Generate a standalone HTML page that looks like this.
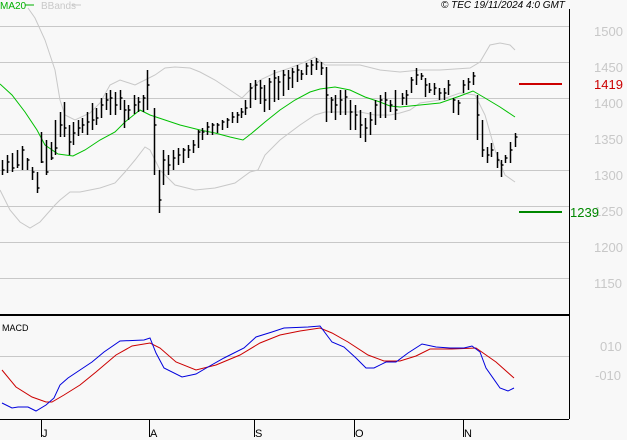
<!DOCTYPE html>
<html><head><meta charset="utf-8"><style>
body{margin:0;background:#f8f8f8;}
svg{display:block;font-family:"Liberation Sans",sans-serif;}
</style></head><body>
<svg width="627" height="440" viewBox="0 0 627 440" xmlns="http://www.w3.org/2000/svg">
<rect width="627" height="440" fill="#f8f8f8"/>
<g stroke="#c8c8c8" stroke-width="1">
<line x1="0" y1="26.5" x2="569" y2="26.5"/><line x1="0" y1="62.5" x2="569" y2="62.5"/>
<line x1="0" y1="98.5" x2="569" y2="98.5"/><line x1="0" y1="134.5" x2="569" y2="134.5"/>
<line x1="0" y1="170.5" x2="569" y2="170.5"/><line x1="0" y1="206.5" x2="569" y2="206.5"/>
<line x1="0" y1="242.5" x2="569" y2="242.5"/><line x1="0" y1="278.5" x2="569" y2="278.5"/>
<line x1="0" y1="356.5" x2="569" y2="356.5"/>
</g>
<g fill="#c8c8c8" font-size="13">
<text x="594" y="36">1500</text><text x="594" y="72">1450</text><text x="594" y="108">1400</text>
<text x="594" y="144">1350</text><text x="594" y="180">1300</text><text x="594" y="216">1250</text>
<text x="594" y="252">1200</text><text x="594" y="288">1150</text>
<text x="600" y="351">010</text><text x="595" y="380">-010</text>
</g>
<polyline fill="none" stroke="#c8c8c8" points="28,8 35,18 45,40 55,70 60,100 65,115 75,120 90,113 100,103 110,85 120,80 135,85 145,80 155,75 165,68 175,67 190,68 200,72 215,80 230,90 242,98 250,90 260,80 275,73 290,68 305,62 315,57 325,65 340,65 360,65 380,70 400,72 420,70 440,70 470,68 480,62 490,45 500,43 510,45 515,50"/>
<polyline fill="none" stroke="#c8c8c8" points="0,190 10,210 20,222 30,228 40,222 55,205 60,200 70,192 80,192 100,188 115,183 125,172 135,160 145,147 150,150 160,170 175,185 195,190 215,188 235,183 250,172 258,170 265,155 280,140 300,125 315,115 325,112 340,112 360,112 375,115 390,115 400,113 410,110 420,103 440,100 460,93 475,95 485,115 495,150 505,175 515,182"/>
<polyline fill="none" stroke="#00c000" points="0,84 12,95 25,112 37,130 45,145 58,154 73,156 85,150 100,140 115,132 125,122 140,110 150,115 165,120 180,125 200,130 215,133 230,137 243,140 252,133 265,122 280,110 295,100 310,92 320,89 335,87 350,90 365,97 380,102 390,106 400,107 420,105 440,103 460,96 473,91 485,98 500,107 515,117"/>
<path fill="none" stroke="#000" stroke-width="1.5" d="
M2.5 160V175M2.5 170h2M7.5 155V173M7.5 162h2M12.5 153V172M12.5 168h2M17.5 150V168M17.5 165h2M22.5 146V170M22.5 150h2M27.5 158V170M27.5 160h2M32.5 167V180M32.5 172h2M37.5 172V193M37.5 188h2M41.5 132V163M41.5 162h2M46.5 140V175M46.5 172h2M51.5 142V160M51.5 158h2M55.5 120V155M55.5 148h2M60.5 112V137M60.5 125h2M64.5 102V137M64.5 128h2M69.5 125V155M69.5 142h2M73.5 122V145M73.5 133h2M78.5 120V136M78.5 128h2M82.5 118V133M82.5 125h2M87.5 112V135M87.5 122h2M92.5 103V130M92.5 120h2M96.5 108V125M96.5 118h2M101.5 98V118M101.5 105h2M106.5 93V110M106.5 100h2M110.5 90V115M110.5 98h2M115.5 92V115M115.5 105h2M120.5 90V110M120.5 98h2M124.5 100V128M124.5 110h2M128.5 105V120M128.5 110h2M134.5 95V114M134.5 105h2M138.5 97V112M138.5 102h2M143.5 95V112M143.5 98h2M147.5 70V110M147.5 85h2M154.5 108V175M154.5 125h2M159.5 170V213M159.5 200h2M163.5 150V185M163.5 160h2M168.5 155V175M168.5 165h2M173.5 150V170M173.5 158h2M178.5 148V165M178.5 155h2M183.5 148V163M183.5 150h2M188.5 145V158M188.5 150h2M193.5 140V153M193.5 145h2M198.5 130V148M198.5 132h2M202.5 128V140M202.5 132h2M207.5 122V135M207.5 127h2M212.5 123V135M212.5 125h2M217.5 123V133M217.5 125h2M222.5 120V130M222.5 122h2M227.5 118V128M227.5 120h2M232.5 112V123M232.5 117h2M237.5 112V123M237.5 115h2M241.5 108V118M241.5 112h2M245.5 100V115M245.5 108h2M250.5 83V108M250.5 88h2M255.5 80V100M255.5 85h2M260.5 80V104M260.5 88h2M264.5 85V112M264.5 100h2M269.5 78V110M269.5 82h2M274.5 70V102M274.5 78h2M278.5 76V100M278.5 82h2M283.5 70V96M283.5 75h2M288.5 70V90M288.5 78h2M292.5 68V88M292.5 72h2M297.5 65V82M297.5 70h2M301.5 70V80M301.5 74h2M306.5 63V75M306.5 66h2M311.5 60V75M311.5 65h2M316.5 58V70M316.5 62h2M321.5 62V75M321.5 68h2M326.5 67V122M326.5 95h2M331.5 97V113M331.5 100h2M335.5 95V120M335.5 105h2M340.5 90V115M340.5 100h2M345.5 90V115M345.5 97h2M350.5 100V130M350.5 112h2M355.5 105V130M355.5 115h2M360.5 110V138M360.5 125h2M365.5 118V142M365.5 128h2M370.5 112V135M370.5 120h2M375.5 100V125M375.5 105h2M380.5 95V118M380.5 100h2M385.5 92V118M385.5 100h2M390.5 100V112M390.5 105h2M395.5 90V120M395.5 110h2M402.5 93V105M402.5 98h2M406.5 90V105M406.5 95h2M411.5 77V93M411.5 80h2M416.5 68V85M416.5 75h2M421.5 73V80M421.5 76h2M425.5 78V97M425.5 85h2M429.5 83V93M429.5 90h2M434.5 83V95M434.5 88h2M439.5 88V100M439.5 93h2M444.5 88V100M444.5 93h2M448.5 80V95M448.5 85h2M453.5 98V113M453.5 100h2M458.5 100V115M458.5 103h2M463.5 80V93M463.5 85h2M468.5 78V90M468.5 82h2M473.5 72V85M473.5 76h2M477.5 95V140M477.5 115h2M482.5 120V157M482.5 150h2M487.5 147V163M487.5 155h2M491.5 143V157M491.5 150h2M497.5 152V168M497.5 160h2M501.5 160V177M501.5 165h2M505.5 155V163M505.5 158h2M510.5 142V163M510.5 150h2M515.5 133V147M515.5 137h2"/>
<line x1="519" y1="84" x2="562" y2="84" stroke="#cc0000" stroke-width="2"/>
<text x="594" y="89" fill="#cc0000" font-size="13">1419</text>
<line x1="519" y1="212" x2="562" y2="212" stroke="#008800" stroke-width="2"/>
<text x="570" y="217" fill="#008800" font-size="13">1239</text>
<text x="0" y="9" fill="#00b000" font-size="10">MA20</text>
<line x1="25" y1="5" x2="34" y2="5" stroke="#00b000"/>
<text x="41" y="9" fill="#c8c8c8" font-size="10">BBands</text>
<line x1="72" y1="5" x2="81" y2="5" stroke="#c8c8c8"/>
<text x="441" y="8" fill="#000" font-size="10" font-style="italic">© TEC 19/11/2024 4:0 GMT</text>
<line x1="569.5" y1="9" x2="569.5" y2="419" stroke="#000"/>
<line x1="0" y1="315" x2="569" y2="315" stroke="#000" stroke-width="2"/>
<line x1="0" y1="419.5" x2="569" y2="419.5" stroke="#000"/>
<text x="2" y="331" fill="#000" font-size="9">MACD</text>
<polyline fill="none" stroke="#cc0000" points="2,370 16,387 32,397 46,402 52,402 64,395 80,385 96,372 116,355 132,346 150,343 160,348 176,362 196,370 216,365 240,355 260,343 280,335 300,331 320,328 332,333 348,342 368,355 384,361 400,361 416,356 430,349 452,349 476,348 496,362 514,378"/>
<polyline fill="none" stroke="#0000dd" points="2,403 12,408 18,407 28,407 36,411 46,405 54,398 60,385 68,378 80,370 92,362 104,352 120,341 144,340 150,338 156,353 164,368 182,377 196,374 208,367 224,358 244,348 256,337 272,332 284,328 308,327 320,326 332,342 344,347 356,358 366,368 374,368 386,362 396,362 408,353 422,344 436,347 450,348 464,348 472,346 480,352 486,368 500,388 508,391 514,388"/>
<g stroke="#000"><line x1="41.5" y1="419" x2="41.5" y2="437"/><line x1="149.5" y1="419" x2="149.5" y2="437"/><line x1="254.5" y1="419" x2="254.5" y2="437"/><line x1="354.5" y1="419" x2="354.5" y2="437"/><line x1="463.5" y1="419" x2="463.5" y2="437"/></g>
<g font-size="11" fill="#000"><text x="42" y="437">J</text><text x="150" y="437">A</text><text x="255" y="437">S</text><text x="355" y="437">O</text><text x="464" y="437">N</text></g>
</svg>
</body></html>
